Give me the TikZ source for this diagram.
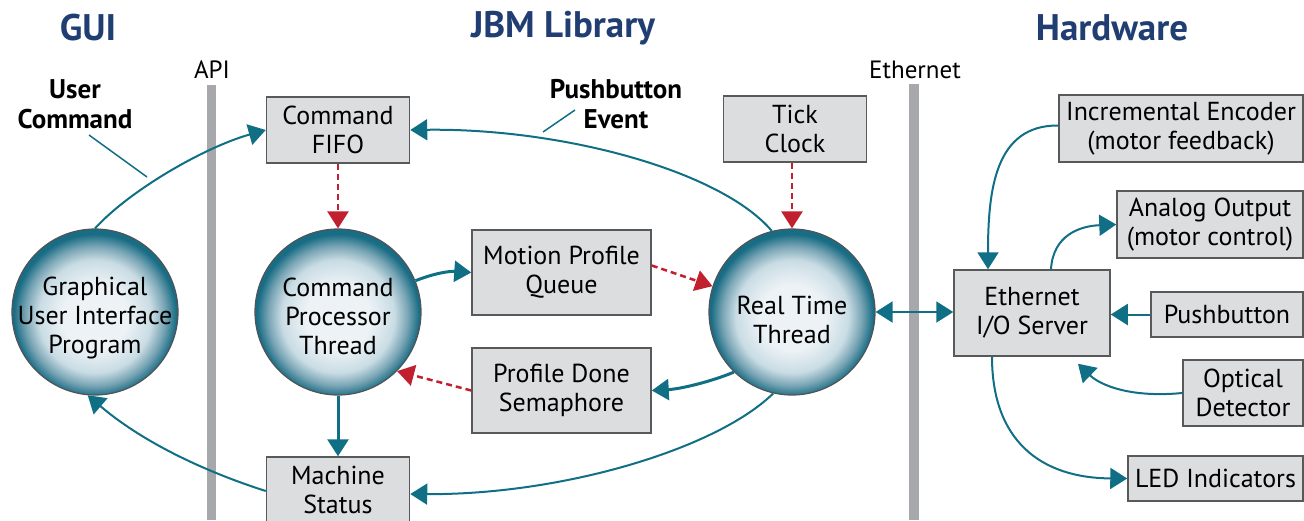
\documentclass[tikz,border=0pt]{standalone}
\usepackage{fontspec}
\setmainfont{PT Sans}
\usetikzlibrary{arrows.meta}
\definecolor{tealc}{RGB}{16,111,133}
\definecolor{redc}{RGB}{193,32,46}
\definecolor{boxfill}{RGB}{220,221,223}
\definecolor{boxline}{RGB}{88,89,91}
\definecolor{bargray}{RGB}{167,168,171}
\definecolor{headblue}{RGB}{33,62,115}
\definecolor{sphin}{RGB}{236,242,246}
\definecolor{sphlight}{RGB}{201,220,228}
\definecolor{sphmid}{RGB}{121,165,181}
\definecolor{sphout}{RGB}{24,108,132}
\definecolor{ballline}{RGB}{80,84,88}
\pgfdeclareradialshading{sphere}{\pgfpoint{0bp}{-2bp}}{color(0bp)=(sphin); color(10bp)=(sphin); color(17bp)=(sphlight); color(21bp)=(sphmid); color(24.5bp)=(sphout); color(50bp)=(sphout)}
\tikzset{
  box/.style={draw=boxline, line width=1.5pt, fill=boxfill, align=center, inner sep=0pt},
  ball/.style={circle, draw=ballline, line width=1.2pt, shading=sphere, minimum size=166pt, inner sep=0pt},
  balltext/.style={align=center, inner sep=0pt},
  tarrow/.style={draw=tealc, line width=2pt, -{Triangle[length=17pt,width=21pt]}},
  tarrowb/.style={draw=tealc, line width=3pt, -{Triangle[length=17pt,width=21pt]}},
  rarrow/.style={draw=redc, line width=2.5pt, dash pattern=on 6pt off 4pt, -{Triangle[length=17pt,width=21pt]}},
  leader/.style={draw=tealc, line width=1.5pt},
  header/.style={font=\fontsize{37}{42}\selectfont\bfseries, text=headblue},
  blabel/.style={font=\fontsize{27}{30}\selectfont\bfseries, align=center},
  plabel/.style={font=\fontsize{25}{28}\selectfont}
}
\begin{document}
\begin{tikzpicture}[x=1pt,y=-1pt,font=\fontsize{26}{29}\selectfont]
\useasboundingbox (0,0) rectangle (1304,520);
\clip (0,0) rectangle (1304,520);
% bars
\fill[bargray] (207,85) rectangle (216,520);
\fill[bargray] (909,84) rectangle (919,520);
% headers
\node[header] (hgui) at (88,28) {GUI};
\node[header] (hjbm) at (563,28) {JBM Library};
\node[header] (hhw) at (1112,28) {Hardware};
\node[plabel] (api) at (212,70) {API};
\node[plabel] (eth) at (915,70) {Ethernet};
\node[blabel] (uc) at (75,104) {User\\Command};
\node[blabel] (pe) at (616,104) {Pushbutton\\Event};
% boxes
\node[box, minimum width=143, minimum height=66] (fifo) at (338,130) {Command\\FIFO};
\node[box, minimum width=143, minimum height=66] (tick) at (795,129) {Tick\\Clock};
\node[box, minimum width=179, minimum height=85] (mpq) at (561.5,272.5) {Motion Profile\\Queue};
\node[box, minimum width=179, minimum height=85] (pds) at (561.5,390.5) {Profile Done\\Semaphore};
\node[box, minimum width=143, minimum height=66] (ms) at (338,490) {Machine\\Status};
\node[box, minimum width=156, minimum height=86] (eio) at (1032,313) {Ethernet\\I/O Server};
\node[box, minimum width=244, minimum height=67] (ie) at (1181,128.5) {Incremental Encoder\\(motor feedback)};
\node[box, minimum width=186, minimum height=67] (ao) at (1210,224.5) {Analog Output\\(motor control)};
\node[box, minimum width=152, minimum height=45] (pb) at (1227,314.5) {Pushbutton};
\node[box, minimum width=120, minimum height=66] (od) at (1243,393) {Optical\\Detector};
\node[box, minimum width=175, minimum height=45] (led) at (1215.5,478.5) {LED Indicators};
% balls
\node[ball] (gui) at (95,312) {};
\node[ball] (cpt) at (338,312) {};
\node[ball] (rt) at (792,312) {};
\node[balltext] (guit) at ([yshift=-6pt]gui.center) {Graphical\\User Interface\\Program};
\node[balltext] (cptt) at ([yshift=-4pt]cpt.center) {Command\\Processor\\Thread};
\node[balltext] (rtt) at ([yshift=-8pt]rt.center) {Real Time\\Thread};
% leader lines
\coordinate (ucA) at (89,135); \coordinate (ucB) at (147,177);
\coordinate (peA) at (575,110); \coordinate (peB) at (543,132);
\draw[leader] (ucA) -- (ucB);
\draw[leader] (peA) -- (peB);
% connectors
\draw[tarrow] (gui.north) .. controls (130,190) and (205,147) .. (fifo.west);
\draw[tarrow] (rt.104) .. controls (720,170) and (560,128) .. (fifo.east);
\draw[rarrow] (fifo.south) -- (cpt.north);
\draw[rarrow] (rt.north |- tick.south) -- (rt.north);
\draw[tarrowb] (cpt.22) .. controls (435,273) and (450,271) .. (mpq.west);
\draw[rarrow] ([yshift=7pt]mpq.east) -- (rt.162);
\draw[tarrowb] (rt.226) .. controls (710,382) and (680,389) .. (pds.east);
\draw[rarrow] (pds.west) -- (cpt.-45);
\draw[tarrowb] (cpt.south) -- (ms.north);
\draw[tarrow] (rt.257) .. controls (715,450) and (560,495) .. ([yshift=-4pt]ms.east);
\draw[tarrow] ([yshift=-1pt]ms.west) .. controls (200,470) and (140,440) .. (gui.265);
\draw[tarrow, {Triangle[length=17pt,width=21pt]}-{Triangle[length=17pt,width=21pt]}] (rt.east) -- (rt.east -| eio.west);
\draw[tarrow] ([yshift=3pt]ie.west) .. controls (995,125) and (988,190) .. ([xshift=-44pt]eio.north);
\draw[tarrow] ([xshift=19pt]eio.north) .. controls (1053,235) and (1080,226) .. (ao.west);
\draw[tarrow] (pb.west) -- (pb.west -| eio.east);
\draw[tarrow] (od.west) .. controls (1130,398) and (1100,385) .. ([xshift=46pt,yshift=-7pt]eio.south);
\draw[tarrow] ([xshift=-40pt]eio.south) .. controls (992,440) and (1040,478) .. (led.west);
\end{tikzpicture}
\end{document}
